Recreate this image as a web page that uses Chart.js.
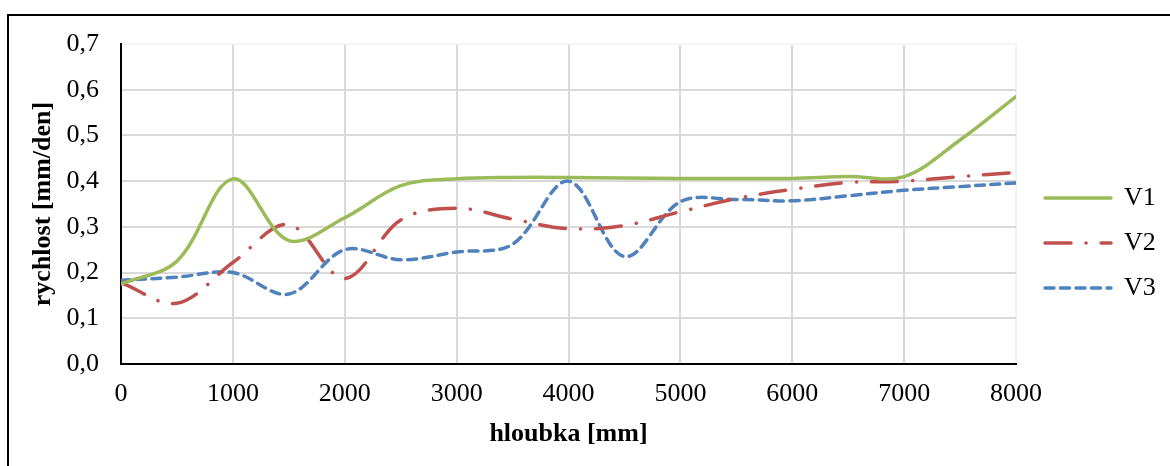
<!DOCTYPE html>
<html>
<head>
<meta charset="utf-8">
<script src="https://cdn.jsdelivr.net/npm/chart.js@4/dist/chart.umd.min.js"></script>
<style>
  html, body { margin: 0; padding: 0; background: #fff; }
  #wrap { position: relative; width: 1170px; height: 466px; }
  canvas { display: block; }
</style>
</head>
<body>
<div id="wrap"><canvas id="c" width="1170" height="466"></canvas></div>
<script>
// ---- data ----
const depths = [0, 500, 1000, 1500, 2000, 2500, 3000, 3500, 4000, 4500, 5000, 5500, 6000, 6500, 7000, 7500, 8000];
const seriesNames = ['V1', 'V2', 'V3'];
const v1 = [0.175, 0.225, 0.405, 0.27, 0.32, 0.39, 0.405, 0.408, 0.408, 0.407, 0.406, 0.406, 0.406, 0.41, 0.41, 0.49, 0.585];
const v2 = [0.178, 0.133, 0.222, 0.305, 0.187, 0.315, 0.341, 0.317, 0.296, 0.303, 0.333, 0.362, 0.382, 0.397, 0.40, 0.41, 0.419];
const v3 = [0.183, 0.19, 0.20, 0.153, 0.25, 0.228, 0.245, 0.262, 0.40, 0.235, 0.355, 0.36, 0.357, 0.368, 0.38, 0.388, 0.396];
const xTicks = [0, 1000, 2000, 3000, 4000, 5000, 6000, 7000, 8000];
const yTicks = [0, 0.1, 0.2, 0.3, 0.4, 0.5, 0.6, 0.7];
const xTitle = 'hloubka [mm]';
const yTitle = 'rychlost [mm/den]';

const FONT = '"Liberation Serif", "Times New Roman", serif';
const pts = arr => depths.map((d, i) => ({ x: d, y: arr[i] }));

const framePlugin = {
  id: 'frame',
  afterInit(chart) {
    const lg = chart.legend;
    if (lg && !lg._wrapped) {
      const orig = lg.fit;
      lg.fit = function () { orig.call(this); this.width = 154; };
      lg._wrapped = true;
    }
  },
  afterLayout(chart) {
    const lg = chart.legend;
    if (lg) { lg.left += 10; lg.right += 10; lg.top -= 4; lg.bottom -= 4; }
  },
  beforeDraw(chart) {
    const ctx = chart.ctx;
    ctx.save();
    ctx.strokeStyle = '#000';
    ctx.lineWidth = 2;
    ctx.beginPath();
    ctx.moveTo(8, 466);
    ctx.lineTo(8, 15);
    ctx.lineTo(1170, 15);
    ctx.stroke();
    ctx.restore();
  }
};

new Chart(document.getElementById('c'), {
  type: 'line',
  data: {
    datasets: [
      { label: seriesNames[0], data: pts(v1), borderColor: '#9BBB59', borderWidth: 3.5, borderCapStyle: 'round', pointRadius: 0, tension: 0.35, fill: false },
      { label: seriesNames[1], data: pts(v2), borderColor: '#C0504D', borderWidth: 3.5, borderCapStyle: 'round', borderDash: [26, 15, 0.1, 15], pointRadius: 0, tension: 0.35, fill: false },
      { label: seriesNames[2], data: pts(v3), borderColor: '#4F81BD', borderWidth: 3.5, borderCapStyle: 'round', borderDash: [9, 6.5], pointRadius: 0, tension: 0.35, fill: false }
    ]
  },
  options: {
    responsive: false,
    devicePixelRatio: 1,
    animation: false,
    layout: { padding: { top: 44, right: 0, bottom: 16, left: 0 } },
    plugins: {
      tooltip: { enabled: false },
      legend: {
        position: 'right',
        labels: {
          usePointStyle: true,
          pointStyleWidth: 66,
          padding: 19,
          color: '#000',
          font: { family: FONT, size: 26 },
          generateLabels: (chart) => chart.data.datasets.map((ds, i) => ({
            text: ds.label,
            fillStyle: ds.borderColor,
            strokeStyle: ds.borderColor,
            lineWidth: 3.5,
            lineDash: ds.borderDash || [],
            lineCap: 'round',
            pointStyle: 'line',
            fontColor: '#000',
            hidden: false,
            datasetIndex: i
          }))
        }
      }
    },
    scales: {
      x: {
        type: 'linear',
        min: xTicks[0],
        max: xTicks[xTicks.length - 1],
        afterFit: (s) => { s.height = 86; },
        afterBuildTicks: (s) => { s.ticks = xTicks.map(v => ({ value: v })); },
        ticks: {
          color: '#000',
          padding: 15,
          maxRotation: 0,
          font: { family: FONT, size: 26 },
          callback: (v) => String(v)
        },
        grid: {
          drawTicks: false,
          lineWidth: 2,
          color: (c) => (c.tick && c.tick.value === 8000) ? '#f2f2f2' : '#d9d9d9'
        },
        border: { color: '#000', width: 2 },
        title: {
          display: true,
          text: xTitle,
          color: '#000',
          padding: { top: 0, bottom: 0 },
          font: { family: FONT, size: 26, weight: 'bold' }
        }
      },
      y: {
        min: 0,
        max: 0.7,
        afterFit: (s) => { s.width = 121; },
        afterBuildTicks: (s) => { s.ticks = yTicks.map(v => ({ value: v })); },
        ticks: {
          color: '#000',
          padding: 22,
          font: { family: FONT, size: 26 },
          callback: (v) => Number(v).toFixed(1).replace('.', ',')
        },
        grid: {
          drawTicks: false,
          lineWidth: 2,
          color: (c) => (c.tick && Math.abs(c.tick.value - 0.7) < 1e-9) ? '#f4f4f4' : '#d9d9d9'
        },
        border: { color: '#000', width: 2 },
        title: {
          display: true,
          text: yTitle,
          color: '#000',
          padding: { top: 28, bottom: 0 },
          font: { family: FONT, size: 26, weight: 'bold' }
        }
      }
    }
  },
  plugins: [framePlugin]
});
</script>
</body>
</html>
